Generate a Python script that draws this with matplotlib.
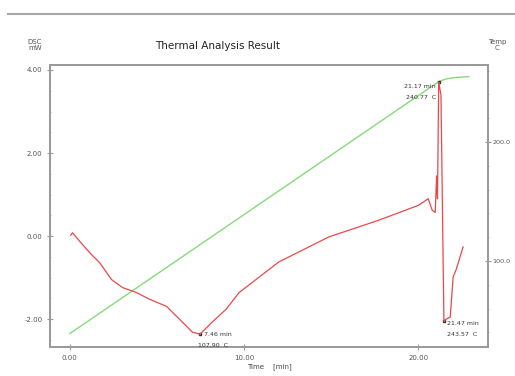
import matplotlib.pyplot as plt
from matplotlib.lines import Line2D
from matplotlib.ticker import MultipleLocator

# DSC signal (mW) against time (min)
dsc_time = [0.05, 0.15, 0.74, 1.14, 1.71, 2.40, 3.03, 3.83, 4.57, 5.54, 6.29, 7.03,
            7.46, 7.60, 8.17, 8.97, 9.71, 12.0, 14.86, 17.71, 20.0, 20.57, 20.80,
            20.97, 21.05, 21.10, 21.17, 21.30, 21.47, 21.60, 21.83, 22.0, 22.17, 22.57]
dsc_mw = [0.02, 0.08, -0.21, -0.40, -0.64, -1.05, -1.24, -1.36, -1.52, -1.69, -2.00, -2.31,
          -2.36, -2.31, -2.07, -1.76, -1.36, -0.62, -0.02, 0.38, 0.74, 0.90, 0.62,
          0.57, 1.45, 0.90, 3.71, 3.40, -2.05, -2.00, -1.95, -0.98, -0.81, -0.26]

# programme temperature (C)
temp_time = [0.0, 10.0, 21.2, 21.6, 22.0, 22.9]
temp_c = [39.0, 139.0, 251.0, 253.0, 254.0, 255.0]

peaks = [(7.46, -2.36, "7.46 min", "107.90  C"),
         (21.17, 3.71, "21.17 min", "240.77  C"),
         (21.47, -2.05, "21.47 min", "243.57  C")]

gray = "#9a9a9a"
red = "#e8484c"
green = "#86da7a"

fig = plt.figure(figsize=(5.15, 3.76), dpi=100)
fig.add_artist(Line2D([8 / 515, 1.0], [1 - 14 / 376] * 2, color="#a8a8a8", lw=1.5))

ax = fig.add_axes([50 / 515, 1 - 347 / 376, 438 / 515, 282 / 376])
ax2 = ax.twinx()

ax.plot(dsc_time, dsc_mw, color=red, lw=0.9, zorder=3)
ax2.plot(temp_time, temp_c, color=green, lw=1.0)
ax.set_zorder(ax2.get_zorder() + 1)
ax.patch.set_visible(False)

ax.set_xlim(-1.14, 24.0)
ax.set_ylim(-2.67, 4.12)
ax2.set_ylim(27.7, 264.7)

ax.set_xticks([0, 10, 20])
ax.set_xticklabels(["0.00", "10.00", "20.00"])
ax.set_yticks([-2, 0, 2, 4])
ax.set_yticklabels(["-2.00", "0.00", "2.00", "4.00"])
ax.yaxis.set_minor_locator(MultipleLocator(0.5))
ax2.set_yticks([100, 200])
ax2.set_yticklabels(["100.0", "200.0"])
ax2.yaxis.set_minor_locator(MultipleLocator(20))

for a in (ax, ax2):
    for s in a.spines.values():
        s.set_color(gray)
        s.set_linewidth(1.3)
    a.tick_params(which="both", direction="inout", color=gray, labelsize=5, labelcolor="#555555")
    a.tick_params(which="major", length=4)
    a.tick_params(which="minor", length=2)
ax2.tick_params(axis="y", labelsize=4.6, pad=1)

ax.set_xlabel("Time    [min]", fontsize=5, color="#444444", labelpad=2)
fig.text(35 / 515, 1 - 45 / 376, "DSC\nmW", fontsize=5, color="#555555", ha="center", va="center", linespacing=1.1)
fig.text(497 / 515, 1 - 45 / 376, "Temp\nC", fontsize=5, color="#555555", ha="center", va="center", linespacing=1.1)
fig.text(218 / 515, 1 - 46 / 376, "Thermal Analysis Result", fontsize=7.5, color="#222222", ha="center", va="center")

# peak labels
t, v, l1, l2 = peaks[0]
ax.plot(t, v, marker="s", ms=2, mfc="none", mec="#333333")
ax.text(t + 0.25, v, l1, fontsize=4.5, color="#333333", va="center")
ax.text(t - 0.1, v - 0.27, l2, fontsize=4.5, color="#333333", va="center")
t, v, l1, l2 = peaks[1]
ax.plot(t, v, marker="s", ms=2, mfc="none", mec="#333333")
ax.text(t - 0.15, v - 0.1, l1, fontsize=4.5, color="#333333", va="center", ha="right")
ax.text(t - 0.15, v - 0.38, l2, fontsize=4.5, color="#333333", va="center", ha="right")
t, v, l1, l2 = peaks[2]
ax.plot(t, v, marker="s", ms=2, mfc="none", mec="#333333")
ax.text(t + 0.2, v - 0.05, l1, fontsize=4.5, color="#333333", va="center")
ax.text(t + 0.2, v - 0.32, l2, fontsize=4.5, color="#333333", va="center")

fig.savefig("out.png", dpi=100)
